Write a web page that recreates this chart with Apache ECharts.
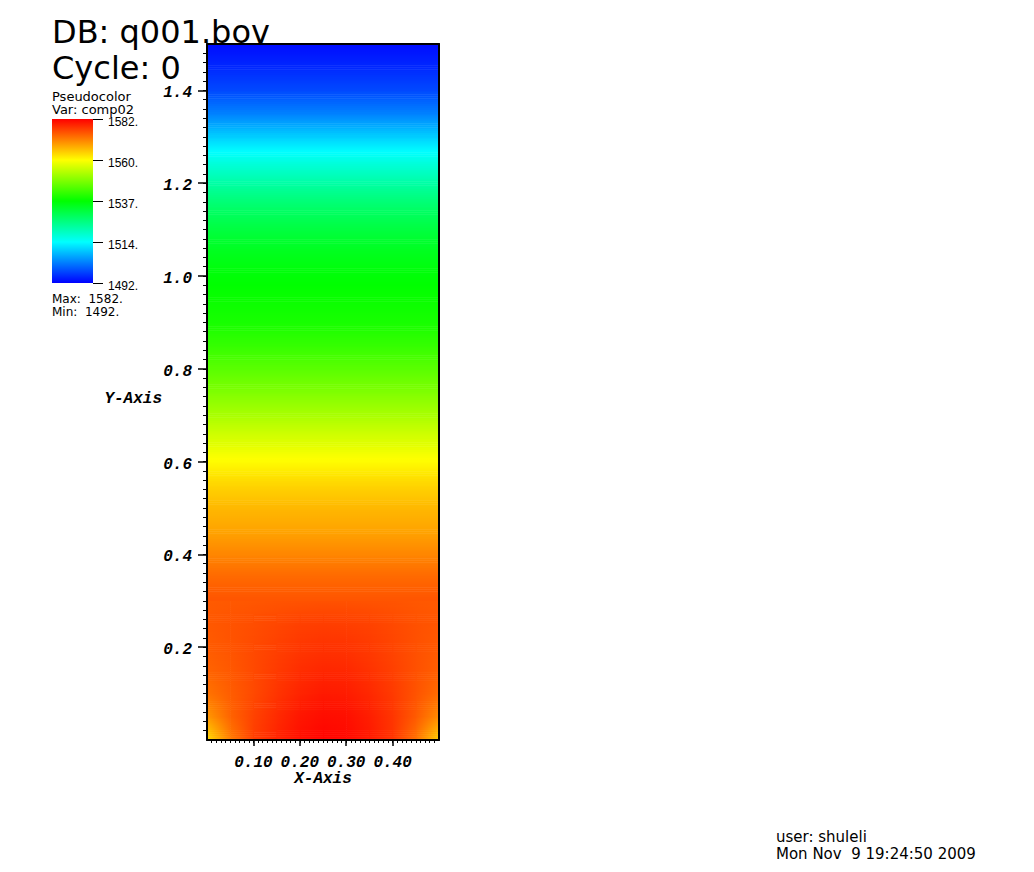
<!DOCTYPE html>
<html>
<head>
<meta charset="utf-8">
<script src="https://cdn.jsdelivr.net/npm/echarts@6/dist/echarts.min.js"></script>
<style>
html,body{margin:0;padding:0;background:#ffffff;}
#chart{width:1034px;height:872px;}
</style>
</head>
<body>
<div id="chart"></div>
<script>
// ---------- DATA ----------
// vertical profile of comp02 above y = 0.30 (uniform across x)
const profileY = [0.30,0.35,0.40,0.45,0.50,0.55,0.60,0.65,0.70,0.75,0.80,0.85,0.90,0.95,1.00,1.05,1.10,1.15,1.20,1.25,1.30,1.35,1.40,1.45,1.50];
const profileValues = [1574.6,1572.8,1570.2,1567.6,1565.8,1563.2,1559.8,1555.9,1551.9,1548.2,1544.9,1541.6,1539.0,1537.8,1536.5,1534.5,1531.4,1527.6,1522.5,1516.8,1510.2,1503.4,1498.4,1495.5,1493.0];

// bottom region (y 0 .. 0.30) varies across x
const patchX = [0,0.05,0.10,0.15,0.20,0.25,0.30,0.35,0.40,0.45,0.50];
const patchY = [0,0.05,0.10,0.15,0.20,0.25,0.30];
const patchValues = [
  [1562.5,1571.0,1576.5,1578.9,1580.7,1581.7,1581.3,1579.8,1577.4,1572.0,1563.5],
  [1568.5,1573.2,1576.2,1578.3,1580.1,1580.9,1580.7,1579.4,1577.3,1574.0,1569.5],
  [1571.8,1573.8,1575.6,1577.4,1578.9,1579.8,1579.6,1578.5,1576.9,1574.7,1572.4],
  [1573.2,1574.2,1575.6,1576.9,1578.0,1578.6,1578.5,1577.6,1576.4,1574.9,1573.6],
  [1573.9,1574.6,1575.5,1576.4,1577.2,1577.6,1577.5,1576.9,1576.0,1574.9,1574.1],
  [1574.2,1574.7,1575.2,1575.8,1576.4,1576.6,1576.5,1576.2,1575.6,1574.9,1574.4],
  [1574.0,1574.2,1574.4,1574.6,1574.7,1574.8,1574.8,1574.7,1574.6,1574.3,1574.1]
];

const valueMin = 1492;
const valueMax = 1582;

// tick labels
const xMajorTicks = [0.1,0.2,0.3,0.4];
const xTickLabels = ['0.10','0.20','0.30','0.40'];
const yMajorTicks = [0.2,0.4,0.6,0.8,1.0,1.2,1.4];
const yTickLabels = ['0.2','0.4','0.6','0.8','1.0','1.2','1.4'];
const legendTickLabels = ['1492.','1514.','1537.','1560.','1582.'];

// texts
const headerLines = ['DB: q001.bov','Cycle: 0'];
const legendTitleLines = ['Pseudocolor','Var: comp02'];
const legendStatLines = ['Max:  1582.','Min:  1492.'];
const footerLines = ['user: shuleli','Mon Nov  9 19:24:50 2009'];

// ---------- BUILD ----------
const palette = ['#0000ff','#00ffff','#00ff00','#ffff00','#ff0000'];
const STRIPS = 12;

const xMinorTicks = [];
for (let i = 1; i < 50; i++) xMinorTicks.push(i / 100);
const yMinorTicks = [];
for (let i = 1; i < 75; i++) yMinorTicks.push((i * 2) / 100);

function colorOf(v) {
  let t = (v - valueMin) / (valueMax - valueMin);
  t = Math.max(0, Math.min(1, t));
  return echarts.color.lerp(t, palette);
}
function gradientStops(v0, v1) {
  const stops = [{offset: 0, color: colorOf(v0)}];
  if (v1 !== v0) {
    for (let k = 1; k < palette.length - 1; k++) {
      const b = valueMin + (valueMax - valueMin) * k / (palette.length - 1);
      if ((b - v0) * (b - v1) < 0) stops.push({offset: (b - v0) / (v1 - v0), color: colorOf(b)});
    }
  }
  stops.push({offset: 1, color: colorOf(v1)});
  stops.sort((a, b) => a.offset - b.offset);
  return stops;
}

const cells = [];
const fieldX0 = patchX[0], fieldX1 = patchX[patchX.length - 1];
for (let k = 0; k < profileY.length - 1; k++) {
  const v0 = profileValues[k], v1 = profileValues[k + 1];
  cells.push([fieldX0, fieldX1, profileY[k], profileY[k + 1], v0, v0, v1, v1]);
}
for (let r = 0; r < patchY.length - 1; r++) {
  for (let c = 0; c < patchX.length - 1; c++) {
    cells.push([patchX[c], patchX[c + 1], patchY[r], patchY[r + 1],
      patchValues[r][c], patchValues[r][c + 1], patchValues[r + 1][c], patchValues[r + 1][c + 1]]);
  }
}

function renderField(params, api) {
  const x0 = api.value(0), x1 = api.value(1), y0 = api.value(2), y1 = api.value(3);
  const vBL = api.value(4), vBR = api.value(5), vTL = api.value(6), vTR = api.value(7);
  const tl = api.coord([x0, y1]);
  const br = api.coord([x1, y0]);
  const w = br[0] - tl[0];
  const h = (br[1] - tl[1]) / STRIPS;
  const children = [];
  for (let k = 0; k < STRIPS; k++) {
    const s = (k + 0.5) / STRIPS;
    const vL = vTL + (vBL - vTL) * s;
    const vR = vTR + (vBR - vTR) * s;
    children.push({
      type: 'rect',
      shape: {x: tl[0], y: tl[1] + k * h, width: w + 0.6, height: h + 0.6},
      style: {fill: new echarts.graphic.LinearGradient(0, 0, 1, 0, gradientStops(vL, vR))}
    });
  }
  return {type: 'group', children: children};
}

function renderLegendBar(params, api) {
  const tl = api.coord([api.value(0), api.value(3)]);
  const br = api.coord([api.value(1), api.value(2)]);
  return {
    type: 'rect',
    shape: {x: tl[0], y: tl[1], width: br[0] - tl[0], height: br[1] - tl[1]},
    style: {fill: new echarts.graphic.LinearGradient(0, 1, 0, 0, gradientStops(api.value(2), api.value(3)))}
  };
}

const monoFont = {
  fontFamily: '"Liberation Mono", "DejaVu Sans Mono", monospace',
  fontWeight: 'bold',
  fontStyle: 'italic',
  fontSize: 16,
  color: '#000000'
};
const sans = '"DejaVu Sans", "Liberation Sans", sans-serif';

function textEl(str, left, top, size, lh) {
  return {
    type: 'text', left: left, top: top, z: 0, silent: true,
    style: {text: str, fill: '#000000', font: size + 'px ' + sans, lineHeight: lh}
  };
}

const chart = echarts.init(document.getElementById('chart'), null, {renderer: 'svg'});

const option = {
  animation: false,
  backgroundColor: '#ffffff',
  grid: [
    {left: 207, top: 44, width: 232, height: 696, containLabel: false, outerBoundsMode: 'none'},
    {left: 52, top: 119, width: 41, height: 164, containLabel: false, outerBoundsMode: 'none'}
  ],
  xAxis: [
    {
      gridIndex: 0, type: 'value', min: 0, max: 0.5, position: 'bottom', z: 10,
      axisLine: {show: true, onZero: false, lineStyle: {color: '#000000', width: 2}},
      axisTick: {show: true, length: 6, customValues: xMajorTicks, lineStyle: {color: '#000000', width: 1.5}},
      axisLabel: Object.assign({show: true, customValues: xMajorTicks, margin: 15,
        formatter: function (v) { const i = xMajorTicks.findIndex(t => Math.abs(t - v) < 1e-9); return i >= 0 ? xTickLabels[i] : ''; }}, monoFont),
      splitLine: {show: false},
      name: 'X-Axis', nameLocation: 'middle', nameGap: 31, nameMoveOverlap: false,
      nameTextStyle: Object.assign({}, monoFont)
    },
    {
      gridIndex: 0, type: 'value', min: 0, max: 0.5, position: 'bottom', z: 10,
      axisLine: {show: false, onZero: false},
      axisTick: {show: true, length: 3, customValues: xMinorTicks, lineStyle: {color: '#000000', width: 1}},
      axisLabel: {show: false}, splitLine: {show: false}
    },
    {
      gridIndex: 0, type: 'value', min: 0, max: 0.5, position: 'top', z: 10,
      axisLine: {show: true, onZero: false, lineStyle: {color: '#000000', width: 2}},
      axisTick: {show: false}, axisLabel: {show: false}, splitLine: {show: false}
    },
    {gridIndex: 1, type: 'value', min: 0, max: 1, show: false, axisLine: {onZero: false}}
  ],
  yAxis: [
    {
      gridIndex: 0, type: 'value', min: 0, max: 1.5, position: 'left', z: 10,
      axisLine: {show: true, onZero: false, lineStyle: {color: '#000000', width: 2}},
      axisTick: {show: true, length: 9, customValues: yMajorTicks, lineStyle: {color: '#000000', width: 1.5}},
      axisLabel: Object.assign({show: true, customValues: yMajorTicks, margin: 15, verticalAlign: 'top', lineHeight: 6,
        formatter: function (v) { const i = yMajorTicks.findIndex(t => Math.abs(t - v) < 1e-9); return i >= 0 ? yTickLabels[i] : ''; }}, monoFont),
      splitLine: {show: false},
      name: 'Y-Axis', nameLocation: 'middle', nameGap: 45, nameRotate: 0, nameMoveOverlap: false,
      nameTextStyle: Object.assign({verticalAlign: 'top', lineHeight: 14}, monoFont)
    },
    {
      gridIndex: 0, type: 'value', min: 0, max: 1.5, position: 'left', z: 10,
      axisLine: {show: false, onZero: false},
      axisTick: {show: true, length: 4, customValues: yMinorTicks, lineStyle: {color: '#000000', width: 1}},
      axisLabel: {show: false}, splitLine: {show: false}
    },
    {
      gridIndex: 0, type: 'value', min: 0, max: 1.5, position: 'right', z: 10,
      axisLine: {show: true, onZero: false, lineStyle: {color: '#000000', width: 2}},
      axisTick: {show: false}, axisLabel: {show: false}, splitLine: {show: false}
    },
    {
      gridIndex: 1, type: 'value', min: valueMin, max: valueMax, interval: (valueMax - valueMin) / 4, position: 'right', z: 10,
      axisLine: {show: false, onZero: false},
      axisTick: {show: true, length: 10, lineStyle: {color: '#000000', width: 1}},
      axisLabel: {show: true, margin: 15, color: '#000000', fontFamily: '"Liberation Sans", sans-serif', fontSize: 12,
        verticalAlign: 'top', lineHeight: 6,
        formatter: function (v, i) { return legendTickLabels[i]; }},
      splitLine: {show: false}
    }
  ],
  graphic: [
    textEl(headerLines[0], 52, 16, 32, 28),
    textEl(headerLines[1], 52, 52, 32, 28),
    textEl(legendTitleLines[0], 52, 89.5, 13, 11),
    textEl(legendTitleLines[1], 52, 103, 13, 10),
    textEl(legendStatLines[0], 52, 292.5, 12, 10),
    textEl(legendStatLines[1], 52, 305.5, 12, 10),
    textEl(footerLines[0], 776, 829, 15, 13),
    textEl(footerLines[1], 776, 846, 15, 13)
  ],
  series: [
    {
      type: 'custom', coordinateSystem: 'cartesian2d', xAxisIndex: 0, yAxisIndex: 0,
      renderItem: renderField, data: cells, encode: {x: [0, 1], y: [2, 3]},
      clip: true, silent: true, z: 2
    },
    {
      type: 'custom', coordinateSystem: 'cartesian2d', xAxisIndex: 3, yAxisIndex: 3,
      renderItem: renderLegendBar, data: [[0, 1, valueMin, valueMax]], encode: {x: [0, 1], y: [2, 3]},
      silent: true, z: 2
    }
  ]
};
chart.setOption(option);
</script>
</body>
</html>
